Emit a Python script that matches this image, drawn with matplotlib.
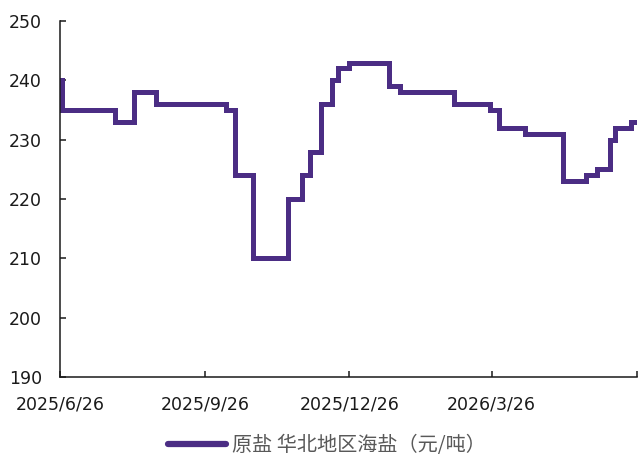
import matplotlib
matplotlib.use("Agg")
import matplotlib.pyplot as plt
import pandas as pd

plt.rcParams['font.family'] = ['DejaVu Sans', 'Noto Sans CJK SC']

# Change dates (step-post) and price levels
change_dates = ["2025-06-26", "2025-06-27", "2025-07-31", "2025-08-12", "2025-08-26",
                "2025-10-09", "2025-10-15", "2025-10-26", "2025-11-17", "2025-11-26",
                "2025-12-01", "2025-12-08", "2025-12-15", "2025-12-19", "2025-12-26",
                "2026-01-20", "2026-01-27", "2026-03-02", "2026-03-25", "2026-03-31",
                "2026-04-16", "2026-05-10", "2026-05-25", "2026-06-01", "2026-06-09",
                "2026-06-12", "2026-06-22", "2026-06-26"]
prices = [240, 235, 233, 238, 236,
          235, 224, 210, 220, 224,
          228, 236, 240, 242, 243,
          239, 238, 236, 235, 232,
          231, 223, 224, 225, 230,
          232, 233, 233]

series_label = "原盐 华北地区海盐（元/吨）"
tick_dates = ["2025-06-26", "2025-09-26", "2025-12-26", "2026-03-26", "2026-06-26"]
tick_labels = ["2025/6/26", "2025/9/26", "2025/12/26", "2026/3/26", ""]
y_ticks = [190, 200, 210, 220, 230, 240, 250]

dates = pd.to_datetime(change_dates)

fig = plt.figure(figsize=(6.38, 4.57), dpi=100)
ax = fig.add_axes([60/638, 80/457, 577/638, 356/457])

line_color = "#4b2d84"
ax.plot(dates, prices, drawstyle="steps-post", color=line_color, lw=3.6,
        solid_joinstyle="miter", label=series_label)

ax.set_xlim(pd.Timestamp(tick_dates[0]), pd.Timestamp(tick_dates[-1]))
ax.set_ylim(190, 250)
ax.set_yticks(y_ticks)
ax.set_xticks(pd.to_datetime(tick_dates))
ax.set_xticklabels(tick_labels)

for s in ["top", "right"]:
    ax.spines[s].set_visible(False)
for s in ["left", "bottom"]:
    ax.spines[s].set_linewidth(1.1)
    ax.spines[s].set_color("#1a1a1a")

ax.tick_params(axis="both", direction="in", length=4, width=1.1, color="#1a1a1a",
               labelsize=12.5, labelcolor="#1a1a1a")
ax.tick_params(axis="y", pad=13)
ax.tick_params(axis="x", pad=13)

leg = fig.legend(loc="center", bbox_to_anchor=(327/638, 1 - 446/457), frameon=False,
                 handlelength=2.9, handletextpad=0.3,
                 prop={"family": ["Noto Sans CJK SC", "DejaVu Sans"], "size": 14.5})
for t in leg.get_texts():
    t.set_color("#595959")
for h in leg.get_lines():
    h.set_linewidth(4.5)
    h.set_solid_capstyle("round")

fig.savefig("out.png", dpi=100)
